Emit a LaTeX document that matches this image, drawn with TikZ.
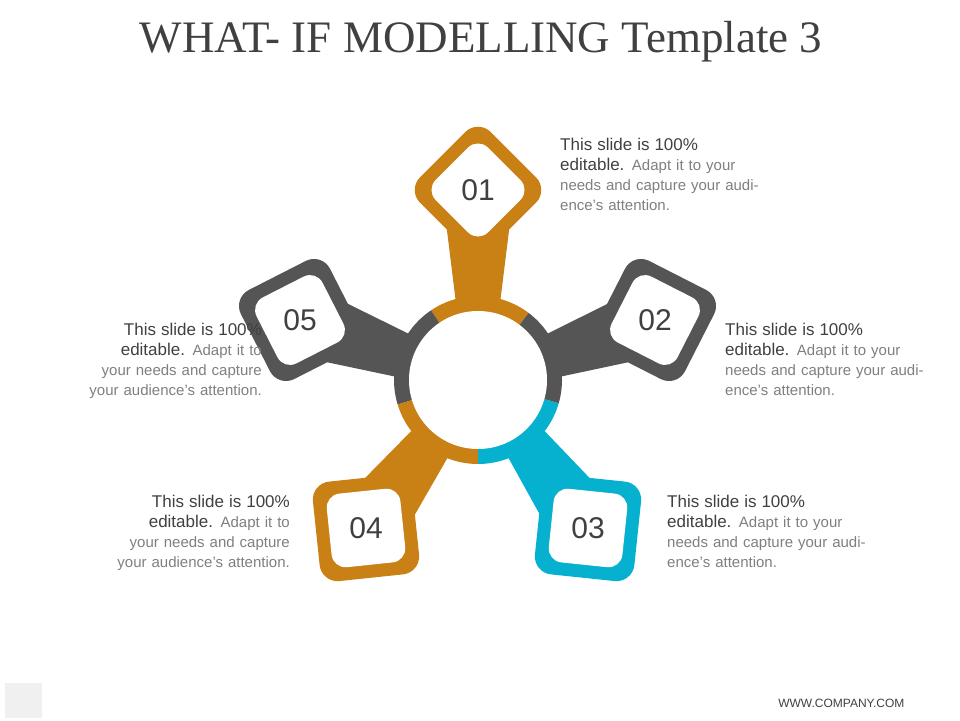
\documentclass[tikz,border=0pt]{standalone}
\usepackage{fontspec}
\setmainfont{Liberation Sans}
\newfontfamily\titlefont{Liberation Serif}
\usetikzlibrary{calc}
\definecolor{org}{HTML}{C98116}
\definecolor{gry}{HTML}{555555}
\definecolor{cyn}{HTML}{06B1CF}
\definecolor{txt}{HTML}{404040}
\definecolor{lt}{HTML}{7F7F7F}
\tikzset{
  outsq/.style={rectangle,minimum size=100pt,rounded corners=18pt,inner sep=0pt},
  insq/.style={rectangle,fill=white,minimum size=74pt,rounded corners=14pt,inner sep=0pt,text=txt,font=\fontsize{30}{30}\selectfont},
  desc/.style={font=\fontsize{15}{20}\selectfont,text=lt,inner sep=0pt,text width=200pt},
}
\newcommand{\hd}{{\fontsize{17}{20}\selectfont\color{txt}This slide is 100\%\\editable.}}
\newcommand{\petalx}[7]{% name, x, y, rot, ringangle, colour, label
  \coordinate (#1c) at (#2,#3);
  \fill[#6] ($(ctr)+(#5-16:80)$) -- ($(#1c)!36pt!90:(ctr)$) -- ($(#1c)!36pt!-90:(ctr)$) -- ($(ctr)+(#5+16:80)$) -- cycle;
  \node[outsq,fill=#6,rotate=#4] (#1o) at (#1c) {};
  \node[insq,rotate=#4] (#1i) at (#1c) {};
  \node[text=txt,font=\fontsize{30}{30}\selectfont] (#1) at (#1c) {#7};
}
\begin{document}
\begin{tikzpicture}[x=1pt,y=1pt]
\useasboundingbox (0,0) rectangle (960,720);
\coordinate (ctr) at (478,340);
\node[text=txt,font=\titlefont\fontsize{45}{45}\selectfont] (title) at (481,678) {WHAT- IF MODELLING Template 3};
% ring
\fill[org] (ctr) -- ++(53:84) arc (53:124:84) -- cycle;
\fill[gry] (ctr) -- ++(124:84) arc (124:197:84) -- cycle;
\fill[org] (ctr) -- ++(197:84) arc (197:270:84) -- cycle;
\fill[cyn] (ctr) -- ++(270:84) arc (270:344:84) -- cycle;
\fill[gry] (ctr) -- ++(-16:84) arc (-16:53:84) -- cycle;
\petalx{p1}{478}{530}{45}{90}{org}{01}
\petalx{p2}{655}{400}{-27}{18}{gry}{02}
\petalx{p3}{588}{192}{-6}{-53}{cyn}{03}
\petalx{p4}{366}{192}{6}{-127}{org}{04}
\petalx{p5}{300}{400}{27}{162}{gry}{05}
\fill[white] (ctr) circle (69);
% texts
\node[desc,anchor=north west,align=left] (t1) at (560,582) {\hd{} Adapt it to your needs and capture your audience's attention.};
\node[desc,anchor=north west,align=left] (t2) at (725,397) {\hd{} Adapt it to your needs and capture your audience's attention.};
\node[desc,anchor=north west,align=left] (t3) at (667,225) {\hd{} Adapt it to your needs and capture your audience's attention.};
\node[desc,anchor=north east,align=right] (t4) at (290,225) {\hd{} Adapt it to your needs and capture your audience's attention.};
\node[desc,anchor=north east,align=right] (t5) at (262,397) {\hd{} Adapt it to your needs and capture your audience's attention.};
\node[font=\fontsize{12}{12}\selectfont,text=txt,anchor=east] (foot) at (908,17) {WWW.COMPANY.COM};
\fill[black!6] (5,2) rectangle (42,37);
\end{tikzpicture}
\end{document}
